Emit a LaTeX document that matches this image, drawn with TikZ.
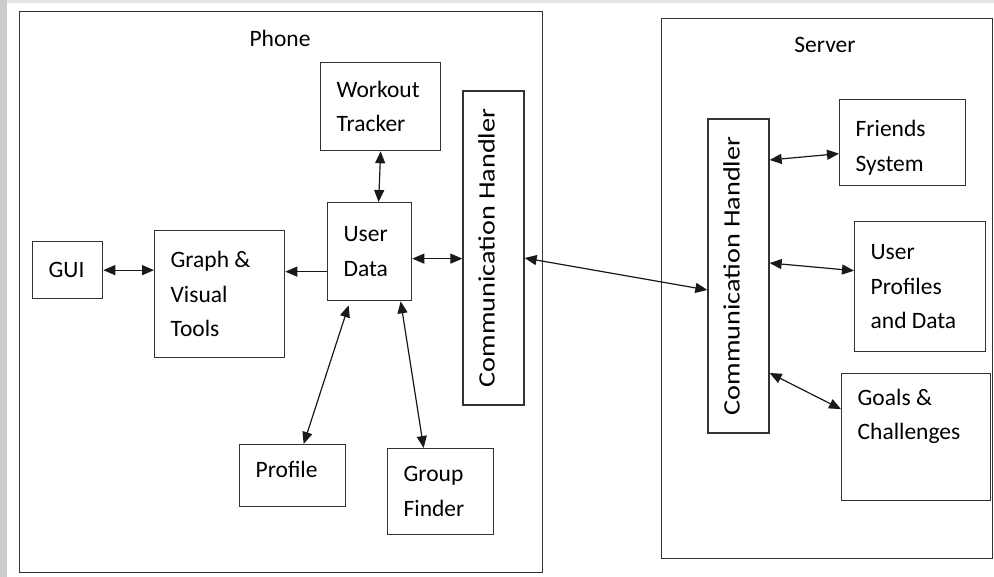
\documentclass[tikz,border=0pt]{standalone}
\usepackage{fontspec}
\setmainfont{Carlito}
\usetikzlibrary{arrows.meta}

\begin{document}
\begin{tikzpicture}[x=1pt,y=-1pt,
	every node/.style={font=\fontsize{23.5}{34.5}\selectfont},
	frame/.style={draw=black!80,line width=1.3pt,inner sep=0pt,anchor=north west},
	box/.style={draw=black!80,line width=1.3pt,align=flush left,inner xsep=16pt,inner ysep=0pt,anchor=north west},
	handler/.style={draw=black!80,line width=1.3pt,rotate=90,inner sep=0pt,minimum width=314pt,minimum height=61pt,text depth=14pt},
	link/.style={draw=black!90,line width=1.2pt,{Triangle[length=12pt,width=10pt]}-{Triangle[length=12pt,width=10pt]}},
	oneway/.style={draw=black!90,line width=1.2pt,-{Triangle[length=12pt,width=10pt]}}]
	%% page and grey edge
	\useasboundingbox (0,0) rectangle (994,577);
	\fill[black!20] (0,0) rectangle (994,577);
	\fill[black!10] (7,0) rectangle (994,3);
	\fill[white] (7,3) rectangle (994,577);

	% the two sides
	\node[frame,minimum width=523pt,minimum height=561pt] (phone) at (19,11) {};
	\node (phonetitle) at (280,38) {Phone};
	\node[frame,minimum width=331pt,minimum height=540pt] (server) at (661,18) {};
	\node (servertitle) at (825,45) {Server};

	% phone parts
	\node[box,text width=38pt,minimum height=57pt] (gui) at (32,241) {GUI};
	\node[box,text width=98pt,minimum height=127pt] (graph) at (154,230) {Graph \&\\Visual\\Tools};
	\node[box,text width=52pt,minimum height=98pt] (userdata) at (327,202) {User\\Data};
	\node[box,text width=88pt,minimum height=88pt] (workout) at (320,62) {Workout\\Tracker};
	\node[box,text width=74pt,minimum height=62pt,text depth=12pt] (profile) at (239,444) {Profile};
	\node[box,text width=74pt,minimum height=86pt] (group) at (387,448) {Group\\Finder};
	\node[handler] (commphone) at (493.5,248) {\scalebox{1.2}[1]{Communication Handler}};

	% server parts
	\node[handler] (commserver) at (738.5,276) {\scalebox{1.2}[1]{Communication Handler}};
	\node[box,text width=94pt,minimum height=86pt,text depth=28pt] (friends) at (839,99) {Friends\\System};
	\node[box,text width=99pt,minimum height=130pt] (profiles) at (854,221) {User\\Profiles\\and Data};
	\node[box,text width=117pt,minimum height=127pt,text depth=80pt] (goals) at (841,373) {Goals \&\\Challenges};

	% connectors
	\draw[link] (gui.east) -- (gui.east -| graph.west);
	\draw[oneway] ([yshift=-20pt]userdata.west) -- ([yshift=-20pt]userdata.west -| graph.east);
	\draw[link] (workout.south) -- ([xshift=9pt]userdata.north);
	\draw[link] ([yshift=-7pt]userdata.east) -- ([yshift=-7pt]userdata.east -| commphone.north);
	\draw[link] ([xshift=-21pt,yshift=-4pt]userdata.south) -- ([xshift=11pt]profile.north);
	\draw[link] ([xshift=31pt]userdata.south) -- ([xshift=-17pt]group.north);
	\draw[link] ([yshift=-10pt]commphone.south) -- ([yshift=-14pt]commserver.north);
	\draw[link] ([yshift=116pt]commserver.south) -- ([yshift=-11pt]friends.west);
	\draw[link] ([yshift=13pt]commserver.south) -- ([yshift=16pt]profiles.west);
	\draw[link] ([yshift=-97pt]commserver.south) -- ([yshift=28pt]goals.west);
\end{tikzpicture}
\end{document}
